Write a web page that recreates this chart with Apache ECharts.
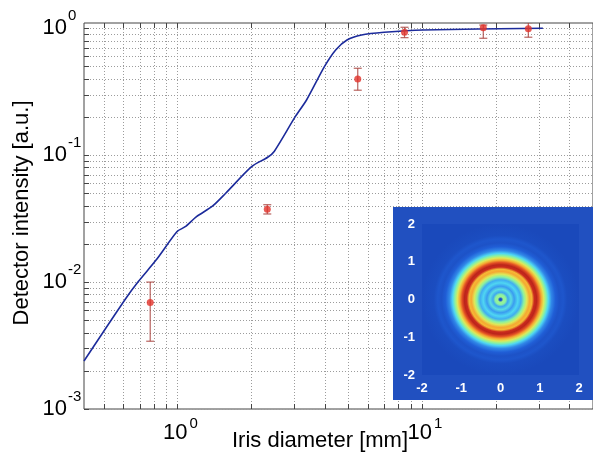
<!DOCTYPE html>
<html><head><meta charset="utf-8">
<script src="https://cdn.jsdelivr.net/npm/echarts@6/dist/echarts.min.js"></script>
<style>html,body{margin:0;padding:0;background:#fff}#c{width:593px;height:457px}</style>
</head><body><div id="c"></div>
<script>
// ---- data ----
const xMajorTicks = [1, 10];
const xMinorTicks = [0.5, 0.6, 0.7, 0.8, 0.9, 2, 3, 4, 5, 6, 7, 8, 9, 20, 30, 40];
const yMajorTicks = [1, 0.1, 0.01, 0.001];
const yMinorTicks = [0.002, 0.003, 0.004, 0.005, 0.006, 0.007, 0.008, 0.009,
  0.02, 0.03, 0.04, 0.05, 0.06, 0.07, 0.08, 0.09,
  0.2, 0.3, 0.4, 0.5, 0.6, 0.7, 0.8, 0.9];
const xTickBase = ['10', '10'];
const xTickExp = ['0', '1'];
const yTickBase = ['10', '10', '10', '10'];
const yTickExp = ['0', '-1', '-2', '-3'];

const curveX = [0.415, 0.613, 0.692, 0.818, 0.997, 1.076, 1.197, 1.394, 1.575, 2.010, 2.339, 2.487, 3.032, 3.372, 3.989, 4.435, 4.934, 5.659, 7.003, 10.09, 31.2];
const curveY = [0.00239, 0.00736, 0.0101, 0.0149, 0.0250, 0.0273, 0.0328, 0.0398, 0.0501, 0.0812, 0.0963, 0.107, 0.201, 0.272, 0.498, 0.675, 0.809, 0.886, 0.930, 0.970, 1.0];

const pointsX = [0.774, 2.33, 5.46, 8.48, 17.8, 27.2];
const pointsY = [0.00689, 0.0375, 0.398, 0.930, 1.01, 0.993];
const errLow  = [0.00342, 0.0344, 0.325, 0.843, 0.834, 0.85];
const errHigh = [0.0100, 0.0407, 0.484, 1.018, 1.06, 1.107];

// inset: radial intensity profile (radius in mm, normalised intensity)
const profileR = [0, 0.03, 0.07, 0.13, 0.19, 0.27, 0.35, 0.44, 0.52, 0.60, 0.67, 0.74, 0.80, 0.86, 0.92, 0.98, 1.04, 1.10, 1.16, 1.22, 1.30, 1.40, 1.50, 1.60, 1.70, 2.0];
const profileV = [0.05, 0.1, 0.52, 0.5, 0.32, 0.42, 0.3, 0.4, 0.33, 0.5, 0.62, 0.74, 0.72, 0.93, 0.96, 0.86, 0.74, 0.62, 0.5, 0.4, 0.25, 0.14, 0.08, 0.1, 0.05, 0.03];
const insetTicks = [-2, -1, 0, 1, 2];

// ---- styles ----
const cmapStops = [[0, [25, 67, 180]], [0.15, [32, 96, 216]], [0.3, [58, 156, 240]], [0.4, [79, 214, 242]],
  [0.5, [140, 242, 160]], [0.6, [216, 240, 96]], [0.7, [248, 200, 56]], [0.8, [240, 122, 42]],
  [0.9, [216, 48, 32]], [1, [168, 28, 24]]];
function cmap(v) {
  for (let i = 1; i < cmapStops.length; i++) {
    if (v <= cmapStops[i][0]) {
      const a = cmapStops[i - 1], b = cmapStops[i];
      const t = (v - a[0]) / (b[0] - a[0]);
      const c = a[1].map((x, k) => Math.round(x + (b[1][k] - x) * t));
      return 'rgb(' + c.join(',') + ')';
    }
  }
  return 'rgb(' + cmapStops[cmapStops.length - 1][1].join(',') + ')';
}
const FONT = 'Liberation Sans, Arial, Helvetica, sans-serif';
const px = v => Math.round(v) + 0.5;

const chart = echarts.init(document.getElementById('c'), null, {renderer: 'canvas'});

const xGrid = xMinorTicks.concat(xMajorTicks);
const yGrid = yMinorTicks.concat(yMajorTicks);

const option = {
  animation: false,
  backgroundColor: '#fff',
  grid: [
    {left: 84, top: 23, width: 525, height: 386, show: true, borderColor: '#444', borderWidth: 1, backgroundColor: '#fff'},
    {left: 422, top: 224, width: 157, height: 151}
  ],
  xAxis: [
    {type: 'log', logBase: 10, min: 0.415, max: 50, gridIndex: 0,
      axisLine: {show: false}, axisTick: {show: false}, axisLabel: {show: false}, splitLine: {show: false}},
    {type: 'value', min: -2, max: 2, interval: 1, gridIndex: 1, z: 60,
      axisLine: {show: false}, axisTick: {show: false}, splitLine: {show: false},
      axisLabel: {color: '#fff', fontSize: 13, fontWeight: 'bold', fontFamily: FONT, margin: 7}}
  ],
  yAxis: [
    {type: 'log', logBase: 10, min: 0.001, max: 1.1, gridIndex: 0,
      axisLine: {show: false}, axisTick: {show: false}, axisLabel: {show: false}, splitLine: {show: false}},
    {type: 'value', min: -2, max: 2, interval: 1, gridIndex: 1, z: 60,
      axisLine: {show: false}, axisTick: {show: false}, splitLine: {show: false},
      axisLabel: {color: '#fff', fontSize: 13, fontWeight: 'bold', fontFamily: FONT, margin: 7}}
  ],
  graphic: [
    {type: 'rect', z: 50, shape: {x: 393, y: 207, width: 210, height: 193}, style: {fill: 'rgb(33,80,192)'}},
    {type: 'text', z: 5, x: 320, y: 441, style: {text: 'Iris diameter [mm]', fontSize: 22, fontFamily: FONT, fill: '#000', align: 'center', verticalAlign: 'middle'}},
    {type: 'text', z: 5, x: 22, y: 213, rotation: Math.PI / 2, style: {text: 'Detector intensity [a.u.]', fontSize: 22, fontFamily: FONT, fill: '#000', align: 'center', verticalAlign: 'middle'}}
  ],
  series: [
    { // vertical grid lines + ticks
      type: 'custom', xAxisIndex: 0, yAxisIndex: 0, z: 1, silent: true,
      data: xGrid.map(v => [v, 1]),
      renderItem(params, api) {
        const cs = params.coordSys;
        const x = px(api.coord([api.value(0), 1])[0]);
        const y0 = cs.y, y1 = cs.y + cs.height;
        return {type: 'group', children: [
          {type: 'line', shape: {x1: x, y1: y0, x2: x, y2: y1}, style: {stroke: '#9c9c9c', lineWidth: 1, lineDash: [1, 2]}},
          {type: 'line', shape: {x1: x, y1: y1, x2: x, y2: y1 - 5}, style: {stroke: '#444', lineWidth: 1}},
          {type: 'line', shape: {x1: x, y1: y0, x2: x, y2: y0 + 5}, style: {stroke: '#444', lineWidth: 1}}
        ]};
      }
    },
    { // horizontal grid lines + ticks
      type: 'custom', xAxisIndex: 0, yAxisIndex: 0, z: 1, silent: true,
      data: yGrid.map(v => [1, v]),
      renderItem(params, api) {
        const cs = params.coordSys;
        const y = px(api.coord([1, api.value(1)])[1]);
        const x0 = cs.x;
        return {type: 'group', children: [
          {type: 'line', shape: {x1: x0, y1: y, x2: x0 + cs.width, y2: y}, style: {stroke: '#9c9c9c', lineWidth: 1, lineDash: [1, 2]}},
          {type: 'line', shape: {x1: x0, y1: y, x2: x0 + 5, y2: y}, style: {stroke: '#444', lineWidth: 1}}
        ]};
      }
    },
    { // x tick labels
      type: 'custom', xAxisIndex: 0, yAxisIndex: 0, z: 3, silent: true,
      data: xMajorTicks.map(v => [v, 1]),
      renderItem(params, api) {
        const cs = params.coordSys;
        const x = api.coord([api.value(0), 1])[0];
        const y = cs.y + cs.height + 24;
        const i = params.dataIndex;
        return {type: 'group', children: [
          {type: 'text', x: x + 10, y: y, style: {text: xTickBase[i], fontSize: 22, fontFamily: FONT, fill: '#000', align: 'right', verticalAlign: 'middle'}},
          {type: 'text', x: x + 12, y: y - 9, style: {text: xTickExp[i], fontSize: 15, fontFamily: FONT, fill: '#000', align: 'left', verticalAlign: 'middle'}}
        ]};
      }
    },
    { // y tick labels
      type: 'custom', xAxisIndex: 0, yAxisIndex: 0, z: 3, silent: true,
      data: yMajorTicks.map(v => [1, v]),
      renderItem(params, api) {
        const cs = params.coordSys;
        const y = api.coord([1, api.value(1)])[1];
        const x = cs.x - 17;
        const i = params.dataIndex;
        return {type: 'group', children: [
          {type: 'text', x: x, y: y, style: {text: yTickBase[i], fontSize: 22, fontFamily: FONT, fill: '#000', align: 'right', verticalAlign: 'middle'}},
          {type: 'text', x: x + 1, y: y - 12, style: {text: yTickExp[i], fontSize: 15, fontFamily: FONT, fill: '#000', align: 'left', verticalAlign: 'middle'}}
        ]};
      }
    },
    {
      type: 'line', xAxisIndex: 0, yAxisIndex: 0, z: 4,
      data: curveX.map((x, i) => [x, curveY[i]]),
      showSymbol: false, smooth: 0.25,
      lineStyle: {color: '#1c2b9b', width: 1.6}
    },
    { // error bars
      type: 'custom', xAxisIndex: 0, yAxisIndex: 0, z: 5, clip: true,
      data: pointsX.map((x, i) => [x, errLow[i], errHigh[i]]),
      renderItem(params, api) {
        const lo = api.coord([api.value(0), api.value(1)]);
        const hi = api.coord([api.value(0), api.value(2)]);
        const x = lo[0], w = 4;
        const st = {stroke: 'rgba(170,70,66,0.85)', lineWidth: 1.2};
        return {type: 'group', children: [
          {type: 'line', shape: {x1: x, y1: lo[1], x2: x, y2: hi[1]}, style: st},
          {type: 'line', shape: {x1: x - w, y1: lo[1], x2: x + w, y2: lo[1]}, style: st},
          {type: 'line', shape: {x1: x - w, y1: hi[1], x2: x + w, y2: hi[1]}, style: st}
        ]};
      }
    },
    {
      type: 'scatter', xAxisIndex: 0, yAxisIndex: 0, z: 6,
      data: pointsX.map((x, i) => [x, pointsY[i]]),
      symbolSize: 7, itemStyle: {color: '#e2322a'}
    },
    { // inset intensity pattern
      type: 'custom', xAxisIndex: 1, yAxisIndex: 1, z: 55, silent: true,
      data: [[0, 0]],
      renderItem(params, api) {
        const c = api.coord([api.value(0), api.value(1)]);
        const tl = api.coord([insetTicks[0], insetTicks[insetTicks.length - 1]]);
        const br = api.coord([insetTicks[insetTicks.length - 1], insetTicks[0]]);
        const rMax = profileR[profileR.length - 1];
        const s = api.size([rMax, rMax]);
        const stops = profileR.map((r, i) => ({offset: r / rMax, color: cmap(profileV[i])}));
        return {type: 'group', children: [
          {type: 'rect', shape: {x: tl[0], y: tl[1], width: br[0] - tl[0], height: br[1] - tl[1]}, style: {fill: cmap(profileV[profileV.length - 1])}},
          {type: 'circle', x: c[0], y: c[1], scaleX: 1, scaleY: s[1] / s[0], shape: {cx: 0, cy: 0, r: s[0]},
            style: {fill: {type: 'radial', x: 0.5, y: 0.5, r: 0.5, colorStops: stops, global: false}}}
        ]};
      }
    }
  ]
};
chart.setOption(option);
</script>
</body></html>
